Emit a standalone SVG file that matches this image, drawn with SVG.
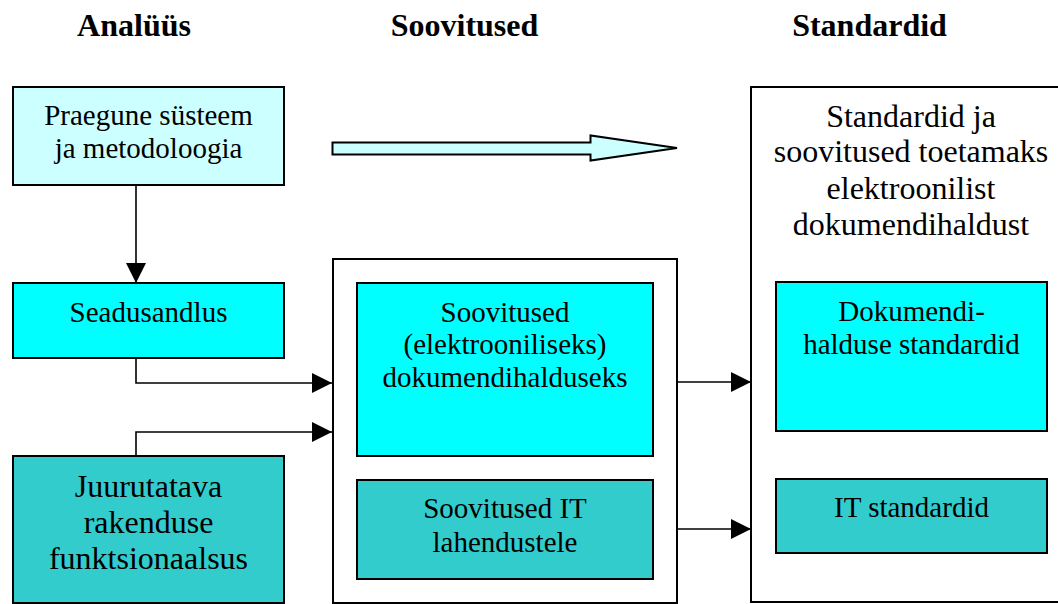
<svg xmlns="http://www.w3.org/2000/svg" width="1058" height="604" viewBox="0 0 1058 604">
  <style>
    .box { stroke: #000; stroke-width: 2; }
    .light { fill: #CCFFFF; }
    .cyan { fill: #00FFFF; }
    .teal { fill: #33CCCC; }
    .white { fill: #FFFFFF; }
    text { font-family: "Liberation Serif", "Times New Roman", serif; fill: #000; text-anchor: middle; }
    .hdr { font-size: 32px; font-weight: bold; }
    .t29 { font-size: 29px; }
    .t32 { font-size: 32px; }
    .conn { fill: none; stroke: #000; stroke-width: 1.6; }
  </style>
  <defs>
    <marker id="ah" markerUnits="userSpaceOnUse" markerWidth="20" markerHeight="20" refX="20" refY="10" orient="auto">
      <path d="M0,0 L20,10 L0,20 z" fill="#000"/>
    </marker>
  </defs>
  <rect width="1058" height="604" fill="#fff"/>

  <g id="headers">
    <text class="hdr" x="134" y="36">Analüüs</text>
    <text class="hdr" x="464.5" y="36">Soovitused</text>
    <text class="hdr" x="869.5" y="36">Standardid</text>
  </g>

  <g id="container-soovitused">
    <rect class="box white" x="333" y="259" width="344" height="344"/>
  </g>
  <g id="container-standardid">
    <rect class="box white" x="751" y="87" width="320" height="515"/>
    <text class="t32" x="911" y="127">Standardid ja</text>
    <text class="t32" x="911" y="162">soovitused toetamaks</text>
    <text class="t32" x="911" y="199">elektroonilist</text>
    <text class="t32" x="911" y="235">dokumendihaldust</text>
  </g>

  <g id="node-praegune">
    <rect class="box light" x="13" y="87" width="271" height="98"/>
    <text class="t29" x="148.5" y="125">Praegune süsteem</text>
    <text class="t29" x="148.5" y="158">ja metodoloogia</text>
  </g>
  <g id="node-seadusandlus">
    <rect class="box cyan" x="13" y="283" width="271" height="75"/>
    <text class="t29" x="148.5" y="322">Seadusandlus</text>
  </g>
  <g id="node-juurutatava">
    <rect class="box teal" x="13" y="456" width="271" height="147"/>
    <text class="t32" x="148.5" y="497">Juurutatava</text>
    <text class="t32" x="148.5" y="533">rakenduse</text>
    <text class="t32" x="148.5" y="569">funktsionaalsus</text>
  </g>
  <g id="node-soovitused-dok">
    <rect class="box cyan" x="357" y="283" width="296" height="173"/>
    <text class="t29" x="505" y="322">Soovitused</text>
    <text class="t29" x="505" y="354">(elektrooniliseks)</text>
    <text class="t29" x="505" y="387">dokumendihalduseks</text>
  </g>
  <g id="node-soovitused-it">
    <rect class="box teal" x="357" y="480" width="296" height="99"/>
    <text class="t29" x="505" y="518">Soovitused IT</text>
    <text class="t29" x="505" y="552">lahendustele</text>
  </g>
  <g id="node-dok-standardid">
    <rect class="box cyan" x="776" y="282" width="271" height="149"/>
    <text class="t29" x="911.5" y="321">Dokumendi-</text>
    <text class="t29" x="911.5" y="354">halduse standardid</text>
  </g>
  <g id="node-it-standardid">
    <rect class="box teal" x="776" y="479" width="271" height="74"/>
    <text class="t29" x="911.5" y="517">IT standardid</text>
  </g>

  <g id="connectors">
    <path class="box light" d="M332.5,142.5 H590.5 V135.5 L677,148 L590.5,160.5 V154.5 H332.5 z" stroke-width="2" stroke-linejoin="miter"/>
    <path class="conn" d="M136,185 V283" marker-end="url(#ah)"/>
    <path class="conn" d="M136,358 V383 H332" marker-end="url(#ah)"/>
    <path class="conn" d="M136,456 V432 H332" marker-end="url(#ah)"/>
    <path class="conn" d="M677,382 H751" marker-end="url(#ah)"/>
    <path class="conn" d="M677,529 H751" marker-end="url(#ah)"/>
  </g>
</svg>
